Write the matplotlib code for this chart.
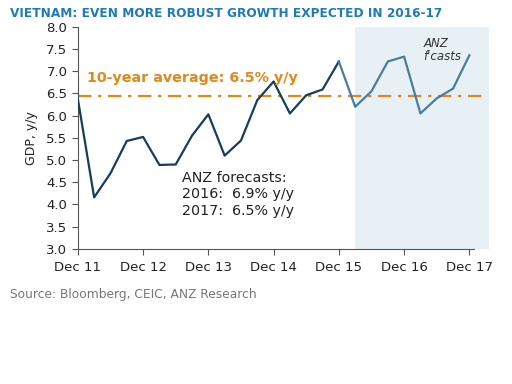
import matplotlib.pyplot as plt

# Quarterly GDP growth, y/y (Dec 11 .. Dec 17)
quarters = ["Dec 11", "Mar 12", "Jun 12", "Sep 12", "Dec 12", "Mar 13", "Jun 13", "Sep 13",
            "Dec 13", "Mar 14", "Jun 14", "Sep 14", "Dec 14", "Mar 15", "Jun 15", "Sep 15",
            "Dec 15", "Mar 16", "Jun 16", "Sep 16", "Dec 16", "Mar 17", "Jun 17", "Sep 17",
            "Dec 17"]
gdp = [6.38, 4.16, 4.70, 5.43, 5.52, 4.89, 4.90, 5.55, 6.03, 5.10, 5.44, 6.35, 6.77,
       6.05, 6.46, 6.59, 7.22, 6.20, 6.55, 7.22, 7.33, 6.05, 6.39, 6.61, 7.36]
n_actual = 17          # points up to Dec 15 are actual data
avg_10y = 6.44
tick_labels = ["Dec 11", "Dec 12", "Dec 13", "Dec 14", "Dec 15", "Dec 16", "Dec 17"]

x = list(range(len(quarters)))

fig = plt.figure(figsize=(5.12, 3.84), dpi=100)
ax = fig.add_axes([0.152, 0.352, 0.803, 0.578])

# forecast shading
ax.axvspan(17, 25.2, color="#e6f0f5", zorder=0, lw=0)

ax.axhline(avg_10y, xmin=0, xmax=0.99, color="#e0881c", lw=1.6, ls=(0, (6, 3, 1.5, 3)), zorder=2)

ax.plot(x[:n_actual], gdp[:n_actual], color="#163d5c", lw=1.6, zorder=3)
ax.plot(x[n_actual - 1:], gdp[n_actual - 1:], color="#4a7d9c", lw=1.6, zorder=3)

ax.set_xlim(0, 25.2)
ax.set_ylim(3.0, 8.0)
ax.set_yticks([3.0 + 0.5 * i for i in range(11)])
ax.set_yticklabels([f"{3.0 + 0.5 * i:.1f}" for i in range(11)])
ax.set_xticks([x[quarters.index(t)] for t in tick_labels])
ax.set_xticklabels(tick_labels)

for s in ["top", "right"]:
    ax.spines[s].set_visible(False)
for s in ["left", "bottom"]:
    ax.spines[s].set_color("#555555")
ax.spines["bottom"].set_bounds(0, 24.3)
ax.tick_params(direction="out", length=4, color="#555555", labelsize=9.5, labelcolor="#222222")
ax.tick_params(axis="x", pad=5)
ax.set_ylabel("GDP, y/y", fontsize=9, color="#222222", labelpad=6)

ax.text(0.55, 6.85, "10-year average: 6.5% y/y", color="#e0881c", fontsize=10.3,
        fontweight="bold", va="center")
ax.text(6.4, 4.75, "ANZ forecasts:\n2016:  6.9% y/y\n2017:  6.5% y/y", fontsize=10.3,
        color="#222222", va="top", linespacing=1.2)
ax.text(21.2, 7.78, "ANZ\nf'casts", fontsize=8.5, style="italic", color="#333333",
        va="top", linespacing=1.0)

fig.text(0.02, 0.965, "VIETNAM: EVEN MORE ROBUST GROWTH EXPECTED IN 2016-17",
         color="#1f7ab8", fontsize=8.7, fontweight="bold", va="center")
fig.text(0.02, 0.232, "Source: Bloomberg, CEIC, ANZ Research", color="#777777",
         fontsize=8.8, va="center")

fig.savefig("out.png", dpi=100)
